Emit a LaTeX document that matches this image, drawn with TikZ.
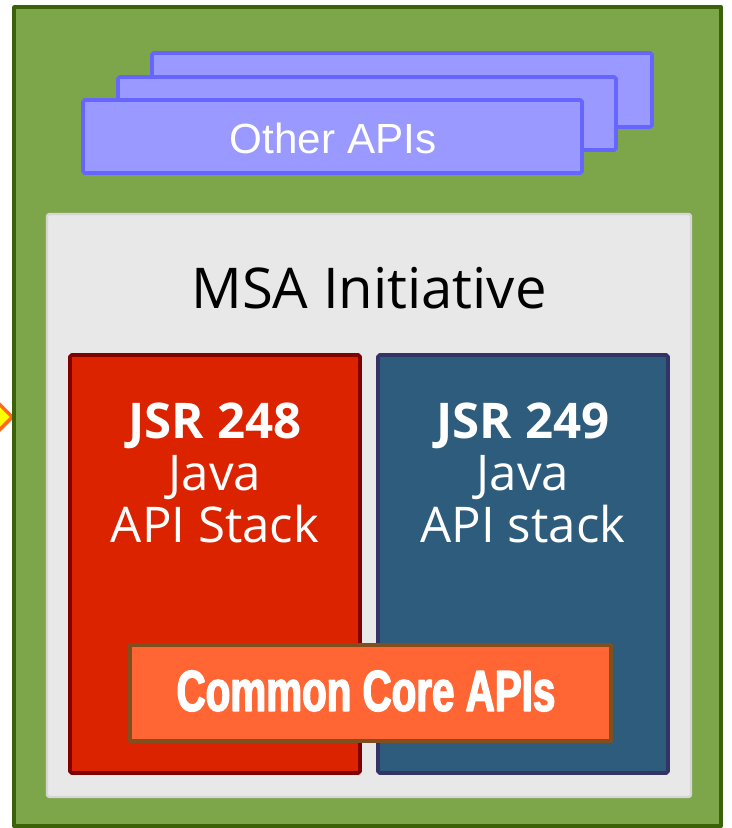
\documentclass[tikz,border=0pt]{standalone}
\usepackage{fontspec}
\setmainfont{Open Sans}
\newfontfamily\otherfont{Liberation Sans}
\newfontfamily\corefont[FakeStretch=0.7,FakeBold=2.5]{Liberation Sans Bold}
\usetikzlibrary{fit,shapes.geometric}
\definecolor{msagreen}{HTML}{7DA64A}
\definecolor{msagreendark}{HTML}{3B6208}
\definecolor{apifill}{HTML}{9999FF}
\definecolor{apidraw}{HTML}{6666FF}
\definecolor{msagray}{HTML}{E8E8E8}
\definecolor{msagraydraw}{HTML}{D6D6D6}
\definecolor{jsrred}{HTML}{DC2300}
\definecolor{jsrreddraw}{HTML}{800000}
\definecolor{jsrblue}{HTML}{2E5C7D}
\definecolor{jsrbluedraw}{HTML}{333366}
\definecolor{corefill}{HTML}{FF6633}
\definecolor{coredraw}{HTML}{7F4F1F}
\definecolor{markfill}{HTML}{FFFF00}
\definecolor{markdraw}{HTML}{FF6A1A}
\begin{document}
\begin{tikzpicture}[x=0.02cm,y=-0.02cm,line join=round]
		\tikzset{every node/.style={inner sep=0pt},
			apibox/.style={draw=apidraw,fill=apifill,line width=2.2pt,rounded corners=1pt},
			stackbox/.style={line width=2.2pt,rounded corners=1pt},
			stacktext/.style={text=white,align=center,font={\fontsize{28}{29.5}\selectfont}}}
		\useasboundingbox (0,0) rectangle (731,828);
		\clip (0,0) rectangle (731,828);
		\node[diamond,draw=markdraw,fill=markfill,line width=2pt,minimum width=1.12cm,minimum height=1.12cm] (mark) at (-15,417) {};
		\node[draw=msagreendark,fill=msagreen,line width=2.2pt,fit={(14,7) (721,826)}] (outer) {};
		\node[apibox,fit={(152,53) (652,127)}] (back) {};
		\node[apibox,fit={(118,77) (616,150)}] (middle) {};
		\node[apibox,fit={(83,100) (582,173)}] (front) {};
		\node[text=white,font=\otherfont\fontsize{24}{28}\selectfont] (fronttext) at (333,138) {Other APIs};
		\node[draw=msagraydraw,fill=msagray,line width=1.4pt,rounded corners=1.5pt,fit={(47,214) (691,797)}] (msa) {};
		\node[font=\fontsize{32}{36}\selectfont] (msatitle) at (369,288) {MSA Initiative};
		\node[stackbox,draw=jsrreddraw,fill=jsrred,fit={(70,355) (360,773)}] (red) {};
		\node[stackbox,draw=jsrbluedraw,fill=jsrblue,fit={(378,355) (668,773)}] (blue) {};
		\node[stacktext] (redtext) at (215,473) {\textbf{JSR 248}\\Java\\API Stack};
		\node[stacktext] (bluetext) at (523,473) {\textbf{JSR 249}\\Java\\API stack};
		\node[draw=coredraw,fill=corefill,line width=2.2pt,fit={(130,645) (611,741)}] (core) {};
		\node[text=white,font=\corefont\fontsize{32.8}{36}\selectfont] (coretext) at (366,691) {Common Core APIs};
	\end{tikzpicture}
\end{document}
